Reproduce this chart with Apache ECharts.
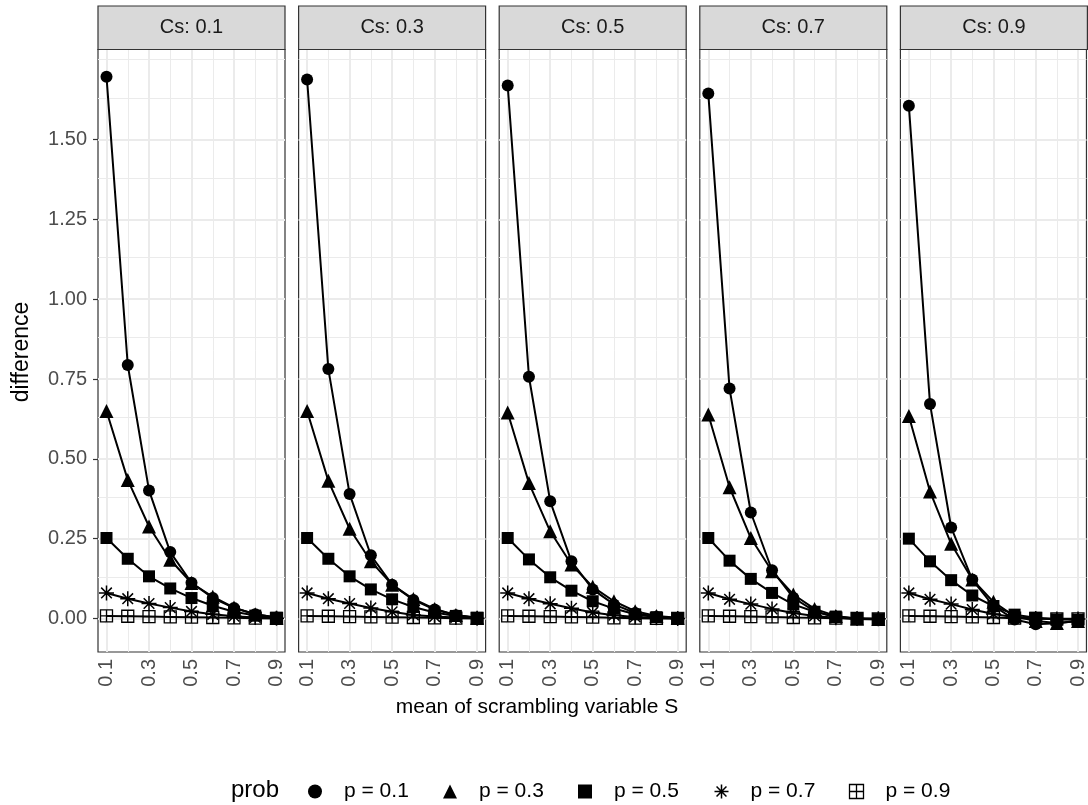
<!DOCTYPE html>
<html>
<head>
<meta charset="utf-8">
<script src="https://cdn.jsdelivr.net/npm/echarts@6/dist/echarts.min.js"></script>
<style>
html, body { margin: 0; padding: 0; background: #fff; }
#chart { width: 1088px; height: 805px; }
</style>
</head>
<body>
<div id="chart"></div>
<script>
// x values (mean of scrambling variable S) and facet values
const sValues = [0.1, 0.2, 0.3, 0.4, 0.5, 0.6, 0.7, 0.8, 0.9];
const csValues = [0.1, 0.3, 0.5, 0.7, 0.9];
const probNames = ['p = 0.1', 'p = 0.3', 'p = 0.5', 'p = 0.7', 'p = 0.9'];

const xTicks = [0.1, 0.3, 0.5, 0.7, 0.9];
const xMinor = [0.2, 0.4, 0.6, 0.8];
const yTicks = [0, 0.25, 0.5, 0.75, 1, 1.25, 1.5];
const yMinor = [0.125, 0.375, 0.625, 0.875, 1.125, 1.375, 1.625, 1.75];

// Cs: 0.1
const cs01_p01 = [1.697, 0.794, 0.401, 0.208, 0.112, 0.064, 0.033, 0.013, 0.003];
const cs01_p03 = [0.650, 0.434, 0.288, 0.184, 0.111, 0.068, 0.034, 0.013, 0.003];
const cs01_p05 = [0.252, 0.187, 0.132, 0.094, 0.064, 0.040, 0.021, 0.009, 0.002];
const cs01_p07 = [0.080, 0.062, 0.047, 0.034, 0.022, 0.013, 0.007, 0.003, 0.001];
const cs01_p09 = [0.008, 0.007, 0.006, 0.005, 0.004, 0.003, 0.002, 0.001, 0.000];
// Cs: 0.3
const cs03_p01 = [1.688, 0.781, 0.390, 0.198, 0.106, 0.058, 0.028, 0.010, 0.002];
const cs03_p03 = [0.650, 0.431, 0.281, 0.179, 0.106, 0.061, 0.030, 0.011, 0.002];
const cs03_p05 = [0.252, 0.187, 0.132, 0.091, 0.060, 0.036, 0.019, 0.008, 0.002];
const cs03_p07 = [0.080, 0.062, 0.047, 0.033, 0.021, 0.011, 0.006, 0.003, 0.001];
const cs03_p09 = [0.008, 0.007, 0.006, 0.005, 0.004, 0.003, 0.002, 0.001, 0.000];
// Cs: 0.5
const cs05_p01 = [1.669, 0.757, 0.367, 0.179, 0.091, 0.044, 0.017, 0.005, 0.001];
const cs05_p03 = [0.645, 0.424, 0.273, 0.169, 0.099, 0.054, 0.023, 0.008, 0.002];
const cs05_p05 = [0.252, 0.185, 0.129, 0.087, 0.054, 0.031, 0.013, 0.004, 0.001];
const cs05_p07 = [0.080, 0.062, 0.046, 0.032, 0.019, 0.010, 0.005, 0.002, 0.000];
const cs05_p09 = [0.008, 0.007, 0.006, 0.005, 0.004, 0.002, 0.001, 0.000, 0.000];
// Cs: 0.7
const cs07_p01 = [1.644, 0.720, 0.332, 0.151, 0.065, 0.023, 0.003, -0.002, -0.003];
const cs07_p03 = [0.639, 0.411, 0.252, 0.148, 0.075, 0.030, 0.008, -0.001, -0.002];
const cs07_p05 = [0.252, 0.181, 0.124, 0.080, 0.044, 0.021, 0.006, 0.000, -0.002];
const cs07_p07 = [0.080, 0.060, 0.045, 0.030, 0.017, 0.008, 0.002, 0.000, -0.001];
const cs07_p09 = [0.008, 0.007, 0.006, 0.005, 0.003, 0.002, 0.001, 0.000, -0.001];
// Cs: 0.9
const cs09_p01 = [1.606, 0.672, 0.285, 0.122, 0.039, -0.003, -0.018, -0.015, -0.008];
const cs09_p03 = [0.634, 0.398, 0.234, 0.122, 0.052, 0.007, -0.008, -0.014, -0.008];
const cs09_p05 = [0.250, 0.179, 0.120, 0.072, 0.039, 0.012, 0.002, -0.003, -0.004];
const cs09_p07 = [0.080, 0.060, 0.045, 0.028, 0.014, 0.004, 0.000, -0.002, -0.002];
const cs09_p09 = [0.008, 0.007, 0.006, 0.005, 0.003, 0.001, 0.000, -0.001, -0.001];

const panels = [
    [cs01_p01, cs01_p03, cs01_p05, cs01_p07, cs01_p09],
    [cs03_p01, cs03_p03, cs03_p05, cs03_p07, cs03_p09],
    [cs05_p01, cs05_p03, cs05_p05, cs05_p07, cs05_p09],
    [cs07_p01, cs07_p03, cs07_p05, cs07_p07, cs07_p09],
    [cs09_p01, cs09_p03, cs09_p05, cs09_p07, cs09_p09]
];

const FONT = '"Liberation Sans", Arial, Helvetica, sans-serif';
const asteriskPath = 'path://M5,0L5,10M0,5L10,5M1.46,1.46L8.54,8.54M8.54,1.46L1.46,8.54';
const boxPlusPath = 'path://M0,0L10,0L10,10L0,10ZM5,0L5,10M0,5L10,5';

// symbol style per prob level (ggplot shapes 16, 17, 15, 8, 12)
const shapes = [
    {symbol: 'circle', size: 12, item: {color: '#000', borderWidth: 0}},
    {symbol: 'triangle', size: 14, item: {color: '#000', borderWidth: 0}},
    {symbol: 'rect', size: 12, item: {color: '#000', borderWidth: 0}},
    {symbol: asteriskPath, size: 15, item: {color: 'none', borderColor: '#000', borderWidth: 1.5}},
    {symbol: boxPlusPath, size: 12, item: {color: 'none', borderColor: '#000', borderWidth: 1.3}}
];
// legend symbol centres
const legendX = [315, 450, 585, 719, 854];

const panelLeft0 = 98, panelStep = 200.6, panelW = 187;
const panelTop = 49.5, panelBottom = 652;
const stripTop = 6;

let grids = [], xAxes = [], yAxes = [], series = [], graphics = [], legends = [];

csValues.forEach(function (cs, i) {
    const left = panelLeft0 + i * panelStep;
    grids.push({
        left: left, top: panelTop, width: panelW, height: panelBottom - panelTop,
        show: true, backgroundColor: '#fff', borderColor: '#333', borderWidth: 1.2, z: 0
    });
    xAxes.push({
        type: 'value', gridIndex: i, min: 0.06, max: 0.94,
        axisLine: {show: false},
        splitLine: {show: false},
        axisTick: {show: true, customValues: xTicks, length: 5, lineStyle: {color: '#333', width: 1.2}},
        axisLabel: {
            show: true, customValues: xTicks, rotate: 90, margin: 7,
            fontSize: 20, color: '#4D4D4D', fontFamily: FONT,
            formatter: function (v) { return v.toFixed(1); }
        }
    });
    yAxes.push({
        type: 'value', gridIndex: i, min: -0.105, max: 1.782,
        axisLine: {show: false},
        splitLine: {show: false},
        axisTick: {show: i === 0, customValues: yTicks, length: 5, lineStyle: {color: '#333', width: 1.2}},
        axisLabel: {
            show: i === 0, customValues: yTicks, margin: 11,
            fontSize: 20, color: '#4D4D4D', fontFamily: FONT,
            formatter: function (v) { return v.toFixed(2); }
        }
    });

    // panel grid lines, drawn through the axes' scales
    let gridLines = [];
    xMinor.forEach(function (v) { gridLines.push({xAxis: v, lineStyle: {width: 1}}); });
    yMinor.forEach(function (v) { gridLines.push({yAxis: v, lineStyle: {width: 1}}); });
    xTicks.forEach(function (v) { gridLines.push({xAxis: v, lineStyle: {width: 2}}); });
    yTicks.forEach(function (v) { gridLines.push({yAxis: v, lineStyle: {width: 2}}); });
    series.push({
        type: 'line', xAxisIndex: i, yAxisIndex: i, data: [], silent: true, z: 1,
        markLine: {
            silent: true, symbol: ['none', 'none'], animation: false, z: 1,
            label: {show: false},
            lineStyle: {color: '#EBEBEB', type: 'solid'},
            data: gridLines
        }
    });

    panels[i].forEach(function (vals, k) {
        series.push({
            name: probNames[k], type: 'line', xAxisIndex: i, yAxisIndex: i, z: 10,
            data: sValues.map(function (s, j) { return [s, vals[j]]; }),
            symbol: shapes[k].symbol, symbolSize: shapes[k].size, showAllSymbol: true,
            lineStyle: {color: '#000', width: 2},
            itemStyle: shapes[k].item,
            emphasis: {disabled: true},
            animation: false
        });
    });

    // facet strip
    graphics.push({
        type: 'rect', silent: true, z: 5,
        shape: {x: left, y: stripTop, width: panelW, height: panelTop - stripTop},
        style: {fill: '#D9D9D9', stroke: '#333', lineWidth: 1.2}
    });
    graphics.push({
        type: 'text', silent: true, z: 6,
        x: left + panelW / 2, y: (stripTop + panelTop) / 2,
        style: {
            text: 'Cs: ' + cs, font: '20px ' + FONT, fill: '#1A1A1A',
            textAlign: 'center', textVerticalAlign: 'middle'
        }
    });
});

// one legend per key so each sits where the reference puts it
probNames.forEach(function (n, k) {
    legends.push({
        left: legendX[k] - 7, top: 781, padding: 0, orient: 'horizontal',
        itemWidth: 14, itemHeight: 14, selectedMode: false,
        textStyle: {fontSize: 21, color: '#000', fontFamily: FONT, padding: [0, 0, 0, 17]},
        data: [{name: n, icon: shapes[k].symbol, itemStyle: shapes[k].item}]
    });
});

// axis titles and legend title
graphics.push({
    type: 'text', silent: true, x: 22, y: 352, rotation: Math.PI / 2,
    style: {text: 'difference', font: '23px ' + FONT, fill: '#000', textAlign: 'center', textVerticalAlign: 'middle'}
});
graphics.push({
    type: 'text', silent: true, x: 537, y: 707,
    style: {text: 'mean of scrambling variable S', font: '21px ' + FONT, fill: '#000', textAlign: 'center', textVerticalAlign: 'middle'}
});
graphics.push({
    type: 'text', silent: true, x: 255, y: 790,
    style: {text: 'prob', font: '24px ' + FONT, fill: '#000', textAlign: 'center', textVerticalAlign: 'middle'}
});

const chart = echarts.init(document.getElementById('chart'), null, {renderer: 'canvas'});
chart.setOption({
    backgroundColor: '#fff',
    animation: false,
    grid: grids,
    xAxis: xAxes,
    yAxis: yAxes,
    legend: legends,
    graphic: graphics,
    series: series
});
</script>
</body>
</html>
